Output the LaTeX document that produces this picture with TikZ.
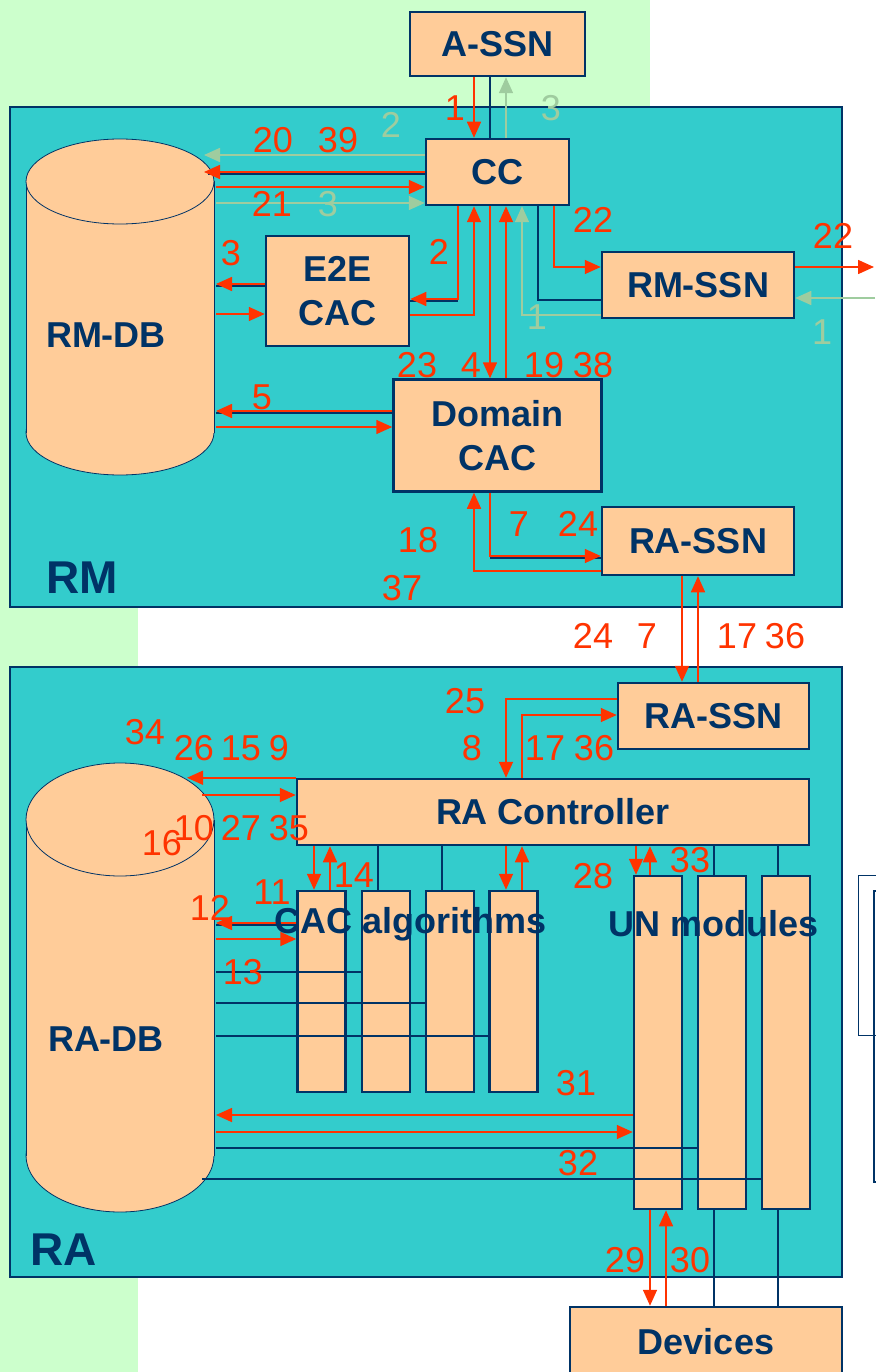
\documentclass[tikz,border=0pt]{standalone}
\usepackage{fontspec}
\setmainfont{Liberation Sans}
\usetikzlibrary{arrows.meta,calc}
\definecolor{bggreen}{HTML}{CCFFCC}
\definecolor{tealbg}{HTML}{33CCCC}
\definecolor{peach}{HTML}{FFCC99}
\definecolor{navy}{HTML}{003366}
\definecolor{redo}{HTML}{FF3300}
\definecolor{paleg}{HTML}{9FCC9F}
\tikzset{
  box/.style={draw=navy, line width=2.5pt, fill=peach, inner sep=0pt, text=navy, align=center,
    font=\fontsize{36}{44}\selectfont\bfseries},
  colbox/.style={draw=navy, line width=2.5pt, fill=peach, inner sep=0pt, minimum width=48pt},
  area/.style={draw=navy, line width=2pt, fill=tealbg},
  rl/.style={draw=redo, line width=1.6pt},
  ra/.style={rl, -{Triangle[length=16pt,width=14pt]}},
  gl/.style={draw=paleg, line width=1.6pt},
  ga/.style={gl, -{Triangle[length=16pt,width=14pt]}},
  nl/.style={draw=navy, line width=1.6pt},
  num/.style={text=redo, font=\fontsize{36}{40}\selectfont, inner sep=0pt},
  gnum/.style={num, text=paleg},
  bigl/.style={text=navy, font=\fontsize{46}{50}\selectfont\bfseries, inner sep=0pt},
  lbl/.style={text=navy, font=\fontsize{36}{44}\selectfont\bfseries, inner sep=0pt},
  ghost/.style={inner sep=0pt, outer sep=0pt, draw=none},
}
\begin{document}
\begin{tikzpicture}[x=1pt,y=-1pt]
\useasboundingbox (0,0) rectangle (875,1372);
% background
\fill[white] (0,0) rectangle (875,1372);
\fill[bggreen] (0,0) rectangle (650,400);
\fill[bggreen] (0,0) rectangle (138,1372);
% areas
\path[area] (10,107) rectangle (842,607);
\path[area] (10,667) rectangle (842,1277);
% side boxes at right
\draw[navy, line width=1pt] (880,875) -- (858.5,875) -- (858.5,1035) -- (880,1035);
\draw[navy, line width=2pt] (880,891) -- (873.5,891) -- (873.5,1182) -- (880,1182);

% RM-DB cylinder
\fill[peach, draw=navy, line width=0.8pt] (120,432.5) ellipse [x radius=94pt, y radius=42.5pt];
\fill[peach] (26,181.5) rectangle (214,432.5);
\draw[navy, line width=0.8pt] (26,181.5) -- (26,432.5) (214,181.5) -- (214,432.5);
\fill[peach, draw=navy, line width=0.8pt] (120,181.5) ellipse [x radius=94pt, y radius=42.5pt];
\node[ghost, minimum width=188pt, minimum height=336pt] (rmdb) at (120,307) {};
\node[lbl] (rmdbl) at (106,335) {RM-DB};

% RA-DB cylinder
\fill[peach, draw=navy, line width=0.8pt] (120,1155.5) ellipse [x radius=94pt, y radius=56.5pt];
\fill[peach] (26,819.5) rectangle (214,1155.5);
\draw[navy, line width=0.8pt] (26,819.5) -- (26,1155.5) (214,819.5) -- (214,1155.5);
\fill[peach, draw=navy, line width=0.8pt] (120,819.5) ellipse [x radius=94pt, y radius=56.5pt];
\node[ghost, minimum width=188pt, minimum height=449pt] (radb) at (120,987.5) {};
\node[lbl] (radbl) at (106,1039) {RA-DB};

% boxes
\node[box, minimum width=175pt, minimum height=64pt] (assn) at (497.5,44) {A-SSN};
\node[box, minimum width=143pt, minimum height=66pt] (cc) at (497.5,172) {CC};
\node[box, minimum width=143pt, minimum height=110pt] (e2e) at (337.5,291) {E2E\\CAC};
\node[box, minimum width=192pt, minimum height=66pt] (rmssn) at (698,285) {RM-SSN};
\node[box, minimum width=208pt, minimum height=112pt] (dcac) at (497.5,435.5) {Domain\\CAC};
\node[box, minimum width=192pt, minimum height=68pt] (rassn1) at (698,541) {RA-SSN};
\node[box, minimum width=191pt, minimum height=66pt] (rassn2) at (713.5,716) {RA-SSN};
\node[box, minimum width=512pt, minimum height=66pt] (racont) at (553,812) {RA Controller};
\node[colbox, minimum height=201pt] (cac1) at (321.5,991.5) {};
\node[colbox, minimum height=201pt] (cac2) at (386,991.5) {};
\node[colbox, minimum height=201pt] (cac3) at (450,991.5) {};
\node[colbox, minimum height=201pt] (cac4) at (513.5,991.5) {};
\node[colbox, minimum height=333pt] (un1) at (658,1042.5) {};
\node[colbox, minimum height=333pt] (un2) at (722,1042.5) {};
\node[colbox, minimum height=333pt] (un3) at (786,1042.5) {};
\node[box, minimum width=272pt, minimum height=69pt] (dev) at (706,1341.5) {Devices};
\coordinate (edgeA) at (874,267);
\coordinate (edgeB) at (875,298);

% navy shadow lines under some red connectors
\draw[nl] (cc.west |- 0,174) -- ($(rmdb.east |- 0,174)+(-6,0)$);
\draw[nl] (e2e.west |- 0,286) -- ($(rmdb.east |- 0,286)+(2,0)$);
\draw[nl] (e2e.east |- 0,301) -- (458,301);
\draw[nl] (dcac.west |- 0,413) -- ($(rmdb.east |- 0,413)+(2,0)$);
\draw[nl] (490,558) -- (rassn1.west |- 0,558);
\draw[nl] (cac1.west |- 0,925) -- ($(radb.east |- 0,925)+(2,0)$);

% A-SSN / CC
\draw[ra] (assn.south -| 474,0) -- (cc.north -| 474,0);
\draw[nl] (assn.south -| 490,0) -- (cc.north -| 490,0);
\draw[ga] (cc.north -| 506,0) -- (assn.south -| 506,0);
% CC / RM-DB
\draw[ga] (cc.west |- 0,155) -- ($(rmdb.east |- 0,155)+(-10,0)$);
\draw[ra] (cc.west |- 0,172) -- ($(rmdb.east |- 0,172)+(-10,0)$);
\draw[ra] ($(rmdb.east |- 0,187)+(2,0)$) -- (cc.west |- 0,187);
\draw[ga] ($(rmdb.east |- 0,203)+(2,0)$) -- (cc.west |- 0,203);
% CC / E2E
\draw[ra] (cc.south -| 458,0) |- (e2e.east |- 0,299);
\draw[ra] (e2e.east |- 0,315) -| (cc.south -| 474,0);
% E2E / RM-DB
\draw[ra] (e2e.west |- 0,284) -- ($(rmdb.east |- 0,284)+(2,0)$);
\draw[ra] ($(rmdb.east |- 0,314)+(2,0)$) -- (e2e.west |- 0,314);
% CC / Domain CAC, RM-SSN
\draw[ra] (cc.south -| 490,0) -- (dcac.north -| 490,0);
\draw[ra] (dcac.north -| 506,0) -- (cc.south -| 506,0);
\draw[ga] (rmssn.west |- 0,315) -| (cc.south -| 522,0);
\draw[nl] (cc.south -| 538,0) |- (rmssn.west |- 0,300);
\draw[ra] (cc.south -| 554,0) |- (rmssn.west |- 0,267);
\draw[ra] (rmssn.east |- 0,267) -- (edgeA);
\draw[ga] (edgeB) -- (rmssn.east |- 0,298);
% Domain CAC / RM-DB
\draw[ra] (dcac.west |- 0,411) -- ($(rmdb.east |- 0,411)+(2,0)$);
\draw[ra] ($(rmdb.east |- 0,427)+(2,0)$) -- (dcac.west |- 0,427);
% Domain CAC / RA-SSN
\draw[ra] (dcac.south -| 490,0) |- (rassn1.west |- 0,556);
\draw[ra] (rassn1.west |- 0,571) -| (dcac.south -| 474,0);
% RA-SSN / RA-SSN
\draw[ra] (rassn1.south -| 682,0) -- (rassn2.north -| 682,0);
\draw[ra] (rassn2.north -| 698,0) -- (rassn1.south -| 698,0);
% RA-SSN / RA Controller
\draw[ra] (rassn2.west |- 0,699) -| (racont.north -| 506,0);
\draw[ra] (racont.north -| 522,0) |- (rassn2.west |- 0,715);
% RA Controller / RA-DB
\draw[ra] (racont.north west) -- ($(radb.east |- racont.north west)+(-27,0)$);
\draw[ra] ($(radb.east |- 0,795)+(-12,0)$) -- (racont.west |- 0,795);
% RA Controller / CAC algorithms
\draw[ra] (racont.south -| 314,0) -- (cac1.north -| 314,0);
\draw[ra] (cac1.north -| 330,0) -- (racont.south -| 330,0);
\draw[nl] (racont.south -| 378,0) -- (cac2.north -| 378,0);
\draw[nl] (racont.south -| 442,0) -- (cac3.north -| 442,0);
\draw[ra] (racont.south -| 506,0) -- (cac4.north -| 506,0);
\draw[ra] (cac4.north -| 522,0) -- (racont.south -| 522,0);
% RA Controller / UN modules
\draw[ra] (racont.south -| 636,0) -- (un1.north -| 636,0);
\draw[ra] (un1.north -| 650,0) -- (racont.south -| 650,0);
\draw[nl] (racont.south -| 714,0) -- (un2.north -| 714,0);
\draw[nl] (racont.south -| 778,0) -- (un3.north -| 778,0);
% RA-DB / CAC algorithms
\draw[ra] (cac1.west |- 0,923) -- ($(radb.east |- 0,923)+(2,0)$);
\draw[ra] ($(radb.east |- 0,939)+(2,0)$) -- (cac1.west |- 0,939);
\draw[nl] ($(radb.east |- 0,972)+(2,0)$) -- (cac2.west |- 0,972);
\draw[nl] ($(radb.east |- 0,1003)+(2,0)$) -- (cac3.west |- 0,1003);
\draw[nl] ($(radb.east |- 0,1036)+(2,0)$) -- (cac4.west |- 0,1036);
% RA-DB / UN modules
\draw[ra] (un1.west |- 0,1115) -- ($(radb.east |- 0,1115)+(2,0)$);
\draw[ra] ($(radb.east |- 0,1132)+(2,0)$) -- (un1.west |- 0,1132);
\draw[nl] ($(radb.east |- 0,1148)+(2,0)$) -- (un2.west |- 0,1148);
\draw[nl] ($(radb.east |- 0,1179)+(-12,0)$) -- (un3.west |- 0,1179);
% UN modules / Devices
\draw[ra] (un1.south -| 650,0) -- (dev.north -| 650,0);
\draw[ra] (dev.north -| 666,0) -- (un1.south -| 666,0);
\draw[nl] (un2.south -| 714,0) -- (dev.north -| 714,0);
\draw[nl] (un3.south -| 778,0) -- (dev.north -| 778,0);

% labels
\foreach \t/\x/\y [count=\i] in {1/455/108, 20/273/140, 39/338/140, 21/272/204, 22/593/220,
  22/833/236, 3/231/253, 2/439/252, 23/417/365, 4/471/365, 19/544/365, 38/593/365,
  5/262/397, 7/519/524, 24/578/524, 18/418/540, 37/402/588, 24/593/636, 7/647/636,
  17/737/636, 36/785/636, 25/465/701, 34/145/732, 26/194/748, 15/241/748, 9/279/748,
  8/472/748, 17/545/748, 36/594/748, 10/194/828, 27/241/828, 35/289/828, 16/162/843,
  14/354/875, 11/272/892, 28/593/876, 33/690/860, 12/210/908, 13/243/972, 31/576/1083,
  32/578/1163, 29/625/1260, 30/690/1260}
  \node[num] (r\i) at (\x,\y) {\t};
\foreach \t/\x/\y [count=\i] in {3/551/108, 2/391/125, 3/328/204, 1/537/317, 1/822/332}
  \node[gnum] (g\i) at (\x,\y) {\t};

\node[lbl] (cactxt) at (410.5,924) {CAC algorithms};
\node[lbl] (untxt) at (714,924) {UN modules};
\node[bigl] (rmtxt) at (82,578) {RM};
\node[bigl] (ratxt) at (64,1250) {RA};
\end{tikzpicture}
\end{document}
